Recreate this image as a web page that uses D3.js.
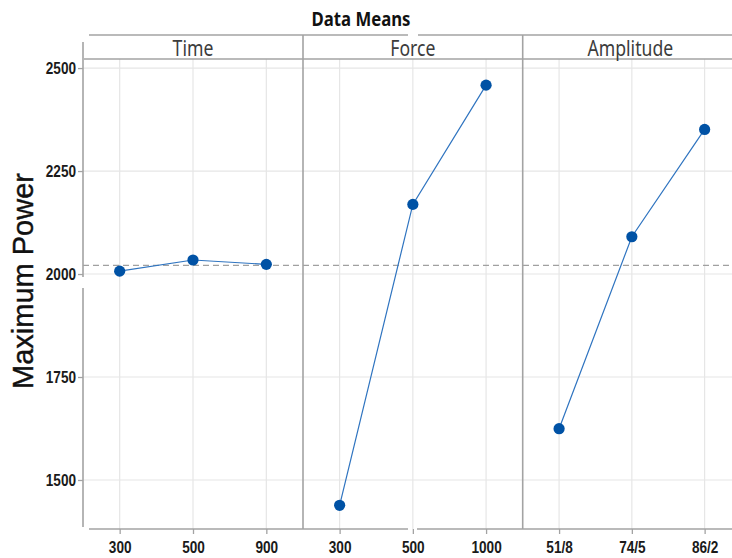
<!DOCTYPE html>
<html lang="en">
<head>
  <meta charset="UTF-8">
  <title>Data Means</title>
  <script src="https://d3js.org/d3.v7.min.js"></script>
  <style>
    body { margin: 0; background: #fff; }
    svg { display: block; font-family: "Noto Sans", "Open Sans", sans-serif; }
    .grid line { stroke: #e6e6e6; stroke-width: 1.2; }
    .frame { stroke: #a3a3a3; stroke-width: 1.6; fill: none; }
    .tick-label { font-size: 16px; font-weight: 600; fill: #1a1a1a; }
    .strip-label { font-size: 21.5px; fill: #3c3c3c; }
  </style>
</head>
<body>
  <div id="chart"></div>
  <script>
    // data means
    const factors = ["Time", "Force", "Amplitude"];
    const timeLevels = ["300", "500", "900"];
    const timeMeans = [2007, 2034, 2023.5];
    const forceLevels = ["300", "500", "1000"];
    const forceMeans = [1438.5, 2169, 2458.5];
    const ampLevels = ["51/8", "74/5", "86/2"];
    const ampMeans = [1624.5, 2090.5, 2351];
    const grandMean = 2021;
    const yTicks = [1500, 1750, 2000, 2250, 2500];

    const width = 732, height = 558;
    const plotTop = 59, plotBottom = 529, axisX = 83;
    const panelEdges = [83, 303, 522.7, 741];

    const panels = [
      { name: factors[0], levels: timeLevels, means: timeMeans },
      { name: factors[1], levels: forceLevels, means: forceMeans },
      { name: factors[2], levels: ampLevels, means: ampMeans }
    ];

    const svg = d3.select("#chart").append("svg")
      .attr("width", width)
      .attr("height", height);

    const y = d3.scaleLinear().domain([1381, 2522]).range([plotBottom, plotTop]);

    panels.forEach((p, i) => {
      p.x = d3.scalePoint().domain(p.levels).range([panelEdges[i], panelEdges[i + 1]]).padding(0.5);
    });

    // gridlines
    const grid = svg.append("g").attr("class", "grid");
    grid.selectAll(".hg").data(yTicks).enter().append("line")
      .attr("x1", axisX).attr("x2", width)
      .attr("y1", d => y(d)).attr("y2", d => y(d));
    panels.forEach(p => {
      grid.selectAll(null).data(p.levels).enter().append("line")
        .attr("x1", d => p.x(d)).attr("x2", d => p.x(d))
        .attr("y1", plotTop).attr("y2", plotBottom);
    });

    // reference line at the overall mean
    svg.append("line")
      .attr("x1", axisX).attr("x2", width)
      .attr("y1", y(grandMean)).attr("y2", y(grandMean))
      .attr("stroke", "#a0a0a0").attr("stroke-width", 1.3)
      .attr("stroke-dasharray", "6,4");

    // strip + frame lines (with the small gaps seen in the picture)
    const frame = svg.append("g").attr("class", "frame");
    const seg = (x1, y1, x2, y2) => frame.append("line")
      .attr("x1", x1).attr("y1", y1).attr("x2", x2).attr("y2", y2);
    seg(89, 35, 408, 35); seg(418, 35, width, 35);
    seg(84, 59, width, 59);
    seg(89, plotBottom, 408, plotBottom); seg(417, plotBottom, width, plotBottom);
    seg(axisX, 42, axisX, 277); seg(axisX, 288, axisX, 527);
    panelEdges.slice(1, 3).forEach(e => seg(e, 35, e, plotBottom));

    // y axis ticks
    const yAxis = svg.append("g")
      .attr("transform", `translate(${axisX},0)`)
      .call(d3.axisLeft(y).tickValues(yTicks).tickSize(5).tickPadding(6).tickFormat(d3.format("d")));
    yAxis.select(".domain").remove();
    yAxis.selectAll(".tick line").attr("stroke", "#a3a3a3").attr("stroke-width", 1.3);
    yAxis.selectAll(".tick text")
      .attr("class", "tick-label")
      .attr("x", 0).attr("dy", "0.34em")
      .attr("transform", "translate(-7,0) scale(0.85,1)");

    // x axis per panel
    panels.forEach(p => {
      const ax = svg.append("g")
        .attr("transform", `translate(0,${plotBottom})`)
        .call(d3.axisBottom(p.x).tickSize(5).tickPadding(8));
      ax.select(".domain").remove();
      ax.selectAll(".tick line").attr("stroke", "#a3a3a3").attr("stroke-width", 1.3);
      ax.selectAll(".tick text")
        .attr("class", "tick-label")
        .attr("transform", "scale(0.85,1)");
    });

    // strip labels
    panels.forEach((p, i) => {
      const cx = (panelEdges[i] + Math.min(panelEdges[i + 1], 738)) / 2;
      svg.append("text")
        .attr("class", "strip-label")
        .attr("text-anchor", "middle")
        .attr("transform", `translate(${cx},55.5) scale(0.82,1)`)
        .text(p.name);
    });

    // mean lines and points
    const line = d3.line();
    panels.forEach(p => {
      const pts = p.levels.map((l, j) => [p.x(l), y(p.means[j])]);
      svg.append("path")
        .attr("d", line(pts))
        .attr("fill", "none")
        .attr("stroke", "#2f74c0")
        .attr("stroke-width", 1.2);
      svg.selectAll(null).data(pts).enter().append("circle")
        .attr("cx", d => d[0]).attr("cy", d => d[1])
        .attr("r", 5.6)
        .attr("fill", "#0052a5");
    });

    // titles
    svg.append("text")
      .attr("text-anchor", "middle")
      .attr("transform", "translate(361,26) scale(0.88,1)")
      .attr("font-size", "19px")
      .attr("font-weight", 700)
      .attr("fill", "#111")
      .text("Data Means");

    svg.append("text")
      .attr("text-anchor", "middle")
      .attr("transform", "translate(33,281) rotate(-90)")
      .attr("font-family", "'Liberation Sans', Arial, sans-serif")
      .attr("font-size", "29px")
      .attr("fill", "#111")
      .attr("stroke", "#111")
      .attr("stroke-width", 0.4)
      .text("Maximum Power");
  </script>
</body>
</html>
